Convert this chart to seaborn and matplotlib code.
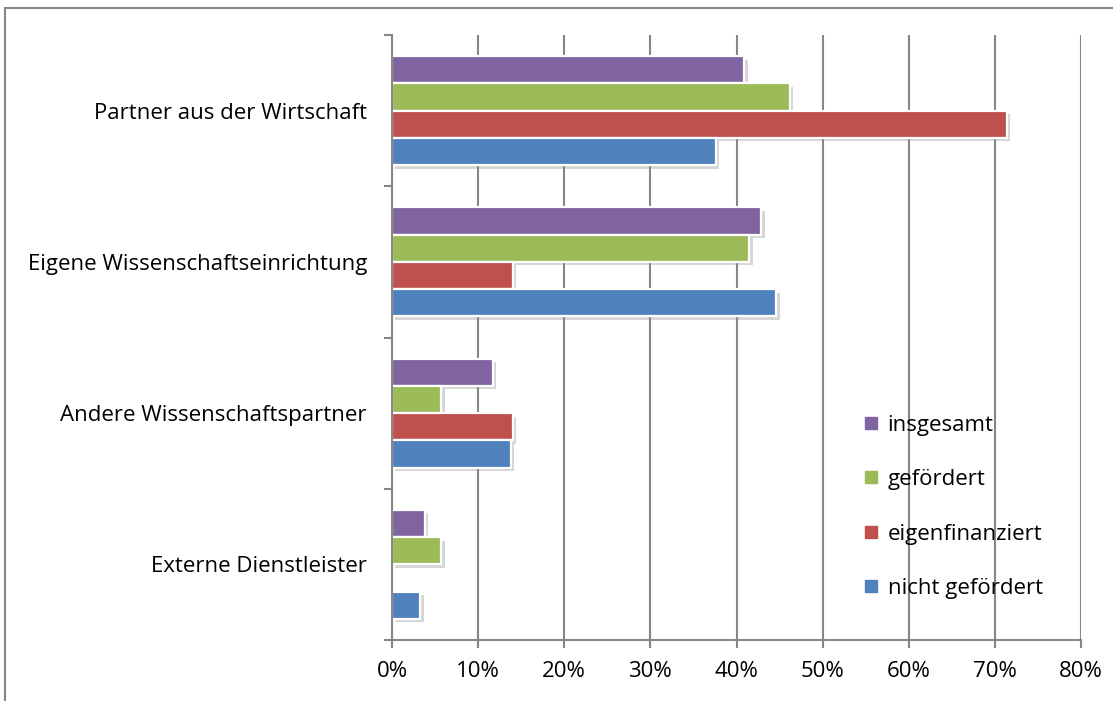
import matplotlib
matplotlib.use("Agg")
import matplotlib.pyplot as plt
import matplotlib.patheffects as pe
from matplotlib.lines import Line2D
from matplotlib.patches import Rectangle
from matplotlib.ticker import FuncFormatter, MultipleLocator, FixedLocator
import seaborn as sns
import pandas as pd

categories = ["Partner aus der Wirtschaft", "Eigene Wissenschaftseinrichtung",
              "Andere Wissenschaftspartner", "Externe Dienstleister"]
series = ["insgesamt", "gefördert", "eigenfinanziert", "nicht gefördert"]
insgesamt = [40.9, 42.9, 11.7, 3.8]
gefoerdert = [46.2, 41.5, 5.7, 5.7]
eigenfinanziert = [71.4, 14.0, 14.0, 0.0]
nicht_gefoerdert = [37.6, 44.6, 13.8, 3.3]
colors = ["#8064A2", "#9BBB59", "#C0504D", "#4F81BD"]

rows = []
for name, vals in zip(series, [insgesamt, gefoerdert, eigenfinanziert, nicht_gefoerdert]):
    for cat, v in zip(categories, vals):
        rows.append({"Kategorie": cat, "Gruppe": name, "Anteil": v})
df = pd.DataFrame(rows)

sns.set_theme(style="white")
plt.rcParams["font.family"] = ["Open Sans", "DejaVu Sans"]
plt.rcParams["text.color"] = "black"
grey = "#868686"
fs = 16

fig = plt.figure(figsize=(11.13, 7.01), dpi=100)
ax = fig.add_axes([392 / 1113, 1 - 640 / 701, (1081 - 392) / 1113, (640 - 35) / 701])

sns.barplot(data=df, y="Kategorie", x="Anteil", hue="Gruppe", order=categories,
            hue_order=series, palette=colors, orient="h", width=0.72,
            edgecolor="white", linewidth=1.6, saturation=1, ax=ax, legend=False)

shadow = [pe.SimplePatchShadow(offset=(2.5, -2.5), shadow_rgbFace="#8c8c8c", alpha=0.35),
          pe.Normal()]
for p in ax.patches:
    p.set_path_effects(shadow)

ax.set_xlim(0, 80)
ax.set_ylim(3.5, -0.5)
ax.xaxis.set_major_locator(MultipleLocator(10))
ax.xaxis.set_major_formatter(FuncFormatter(lambda v, _: f"{v:.0f}%"))
ax.grid(axis="x", color=grey, linewidth=1.5)
ax.grid(axis="y", visible=False)
ax.set_axisbelow(True)

ax.yaxis.set_minor_locator(FixedLocator([-0.5, 0.5, 1.5, 2.5, 3.5]))
ax.tick_params(axis="y", which="major", length=0, pad=18, labelsize=fs, labelcolor="black")
ax.tick_params(axis="y", which="minor", left=True, length=6, width=1.5, color=grey)
ax.tick_params(axis="x", which="major", bottom=True, length=6, width=1.5, color=grey,
               pad=9, labelsize=fs, labelcolor="black")

for s in ["top", "right"]:
    ax.spines[s].set_visible(False)
for s in ["left", "bottom"]:
    ax.spines[s].set_color(grey)
    ax.spines[s].set_linewidth(1.5)
ax.set_xlabel("")
ax.set_ylabel("")

handles = [Line2D([], [], marker="s", linestyle="none", markersize=8,
                  markerfacecolor=c, markeredgecolor=c) for c in colors]
fig.legend(handles, series, loc="upper left", bbox_to_anchor=(851 / 1113, 1 - 406 / 701),
           frameon=False, fontsize=fs, labelspacing=1.5, handletextpad=0.25,
           handlelength=1.0, borderaxespad=0, labelcolor="black")

fig.patches.append(Rectangle((4.5 / 1113, -0.2), 1.2, 1.2 - 8 / 701, transform=fig.transFigure,
                             fill=False, edgecolor=grey, linewidth=1.5, clip_on=False))

fig.savefig("out.png", dpi=100)
